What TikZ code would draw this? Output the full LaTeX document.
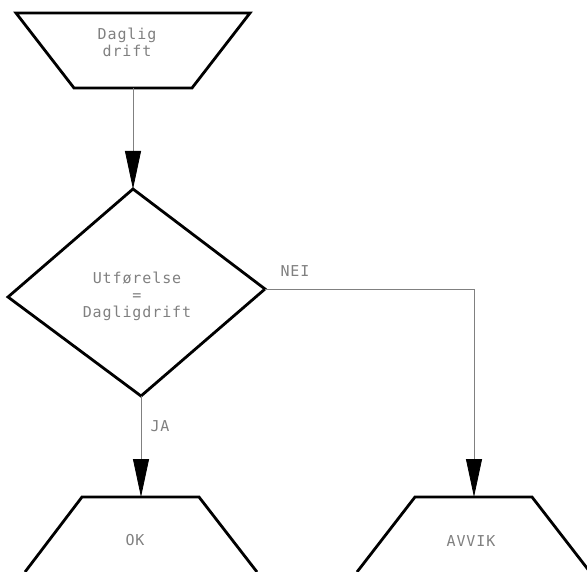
\documentclass[tikz,border=0pt]{standalone}
\usepackage{fontspec}
\setmonofont{DejaVu Sans Mono}[LetterSpace=6]
\usetikzlibrary{arrows.meta}
\begin{document}
\begin{tikzpicture}[x=1pt, y=-1pt, every node/.style={font=\ttfamily\fontsize{15}{17}\selectfont, text=black!50, align=center, inner sep=0pt}, outline/.style={draw, line width=2.8pt, line join=miter}, conn/.style={draw=black!50, line width=0.8pt}, arrow/.style={conn, -{Triangle[length=38pt, width=16pt, color=black, fill=black]}}]
\useasboundingbox (0,0) rectangle (587,572);
% shapes
\draw[outline] (16,13) -- (250,13) -- (192,88) -- (74,88) -- cycle;
\draw[outline] (133,189) -- (265,289) -- (141,396) -- (8,297) -- cycle;
\draw[outline] (25,572) -- (82,497) -- (199,497) -- (257,572);
\draw[outline] (357,572) -- (415,497) -- (532,497) -- (590,572);
% anchors of the connectors
\coordinate (drift-s) at (133,88); \coordinate (valg-n) at (133,189); \coordinate (valg-e) at (265,289); \coordinate (valg-s) at (141,396);
\coordinate (ok-n) at (141,497); \coordinate (avvik-n) at (474,497);
% texts
\node (drift) at (127,42) {Daglig\\drift};
\node (valg) at (137,296) {Utførelse\\=\\Dagligdrift};
\node (ok) at (135,540) {OK};
\node (avvik) at (471,541) {AVVIK};
\node (nei) at (295,271) {NEI};
\node (ja) at (160,426) {JA};
% connectors
\draw[arrow] (drift-s) -- (valg-n);
\draw[arrow] (valg-s) -- (ok-n);
\draw[arrow] (valg-e) -| (avvik-n);
\end{tikzpicture}
\end{document}
